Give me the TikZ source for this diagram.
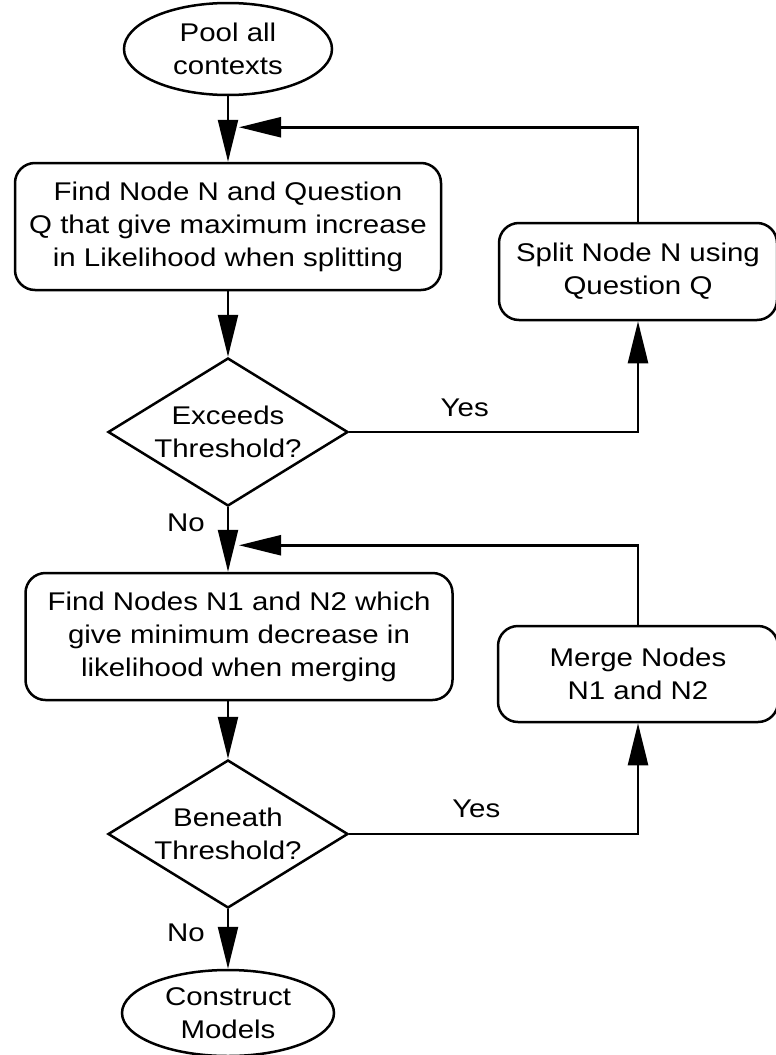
\documentclass[tikz,border=0pt]{standalone}
\usepackage{fontspec}
\setmainfont{Liberation Sans}[FakeStretch=1.15]
\usetikzlibrary{arrows.meta,shapes.geometric,positioning}
\newcommand{\flowfont}{\fontsize{25.6pt}{33pt}\selectfont}

\begin{document}
\begin{tikzpicture}[>={Triangle[length=42pt,width=20pt]}, on grid, line width=2.5pt, font=\flowfont,
    terminal/.style={ellipse, draw, align=center, inner sep=0pt},
    process/.style={rectangle, rounded corners=20pt, draw, align=center, inner sep=0pt},
    decision/.style={diamond, draw, inner sep=0pt, minimum width=240pt, minimum height=148pt},
    lbl/.style={inner sep=0pt}]
    \useasboundingbox (0,0) rectangle (776pt,-1055pt);

    % main column
    \node[terminal, minimum width=208pt, minimum height=92pt] (pool) at (228pt,-49pt) {Pool all\\contexts};
    \node[process, minimum width=426pt, minimum height=127pt] (findsplit) [below=177.5pt of pool] {Find Node N and Question\\Q that give maximum increase\\in Likelihood when splitting};
    \node[decision, label={[align=center]center:Exceeds\\Threshold?}] (exceeds) [below=205.5pt of findsplit] {};
    \node[process, minimum width=427pt, minimum height=127pt] (findmerge) [below=204.5pt of exceeds, xshift=11pt] {Find Nodes N1 and N2 which\\give minimum decrease in\\likelihood when merging};
    \node[decision, label={[align=center]center:Beneath\\Threshold?}] (beneath) [below=402pt of exceeds] {};
    \node[terminal, minimum width=212pt, minimum height=86pt] (construct) [below=179pt of beneath] {Construct\\Models};

    % side boxes
    \node[process, minimum width=278pt, minimum height=97pt] (split) [above right=160.5pt and 410pt of exceeds] {Split Node N using\\Question Q};
    \node[process, minimum width=280pt, minimum height=96pt] (merge) [above right=160pt and 410pt of beneath] {Merge Nodes\\N1 and N2};

    \coordinate (loopA) at ([xshift=11pt,yshift=-31pt]pool.south);
    \coordinate (loopB) at ([xshift=11pt,yshift=-38pt]exceeds.south);

    \path[->]
    (pool) edge (findsplit)
    (findsplit) edge (exceeds)
    (beneath) edge node[lbl, pos=0.39, left=22pt] {No} (construct);

    \draw[->] (exceeds.south) -- node[lbl, pos=0.24, left=22pt] {No} (exceeds.south |- findmerge.north);
    \draw[->] (findmerge.south -| beneath.north) -- (beneath.north);

    % loops back
    \draw[->] (exceeds.east) -| node[lbl, pos=0.2, above=14pt] {Yes} (split.south);
    \draw[->] (split.north) |- (loopA);
    \draw[->] (beneath.east) -| node[lbl, pos=0.22, above=15pt] {Yes} (merge.south);
    \draw[->] (merge.north) |- (loopB);
\end{tikzpicture}
\end{document}
